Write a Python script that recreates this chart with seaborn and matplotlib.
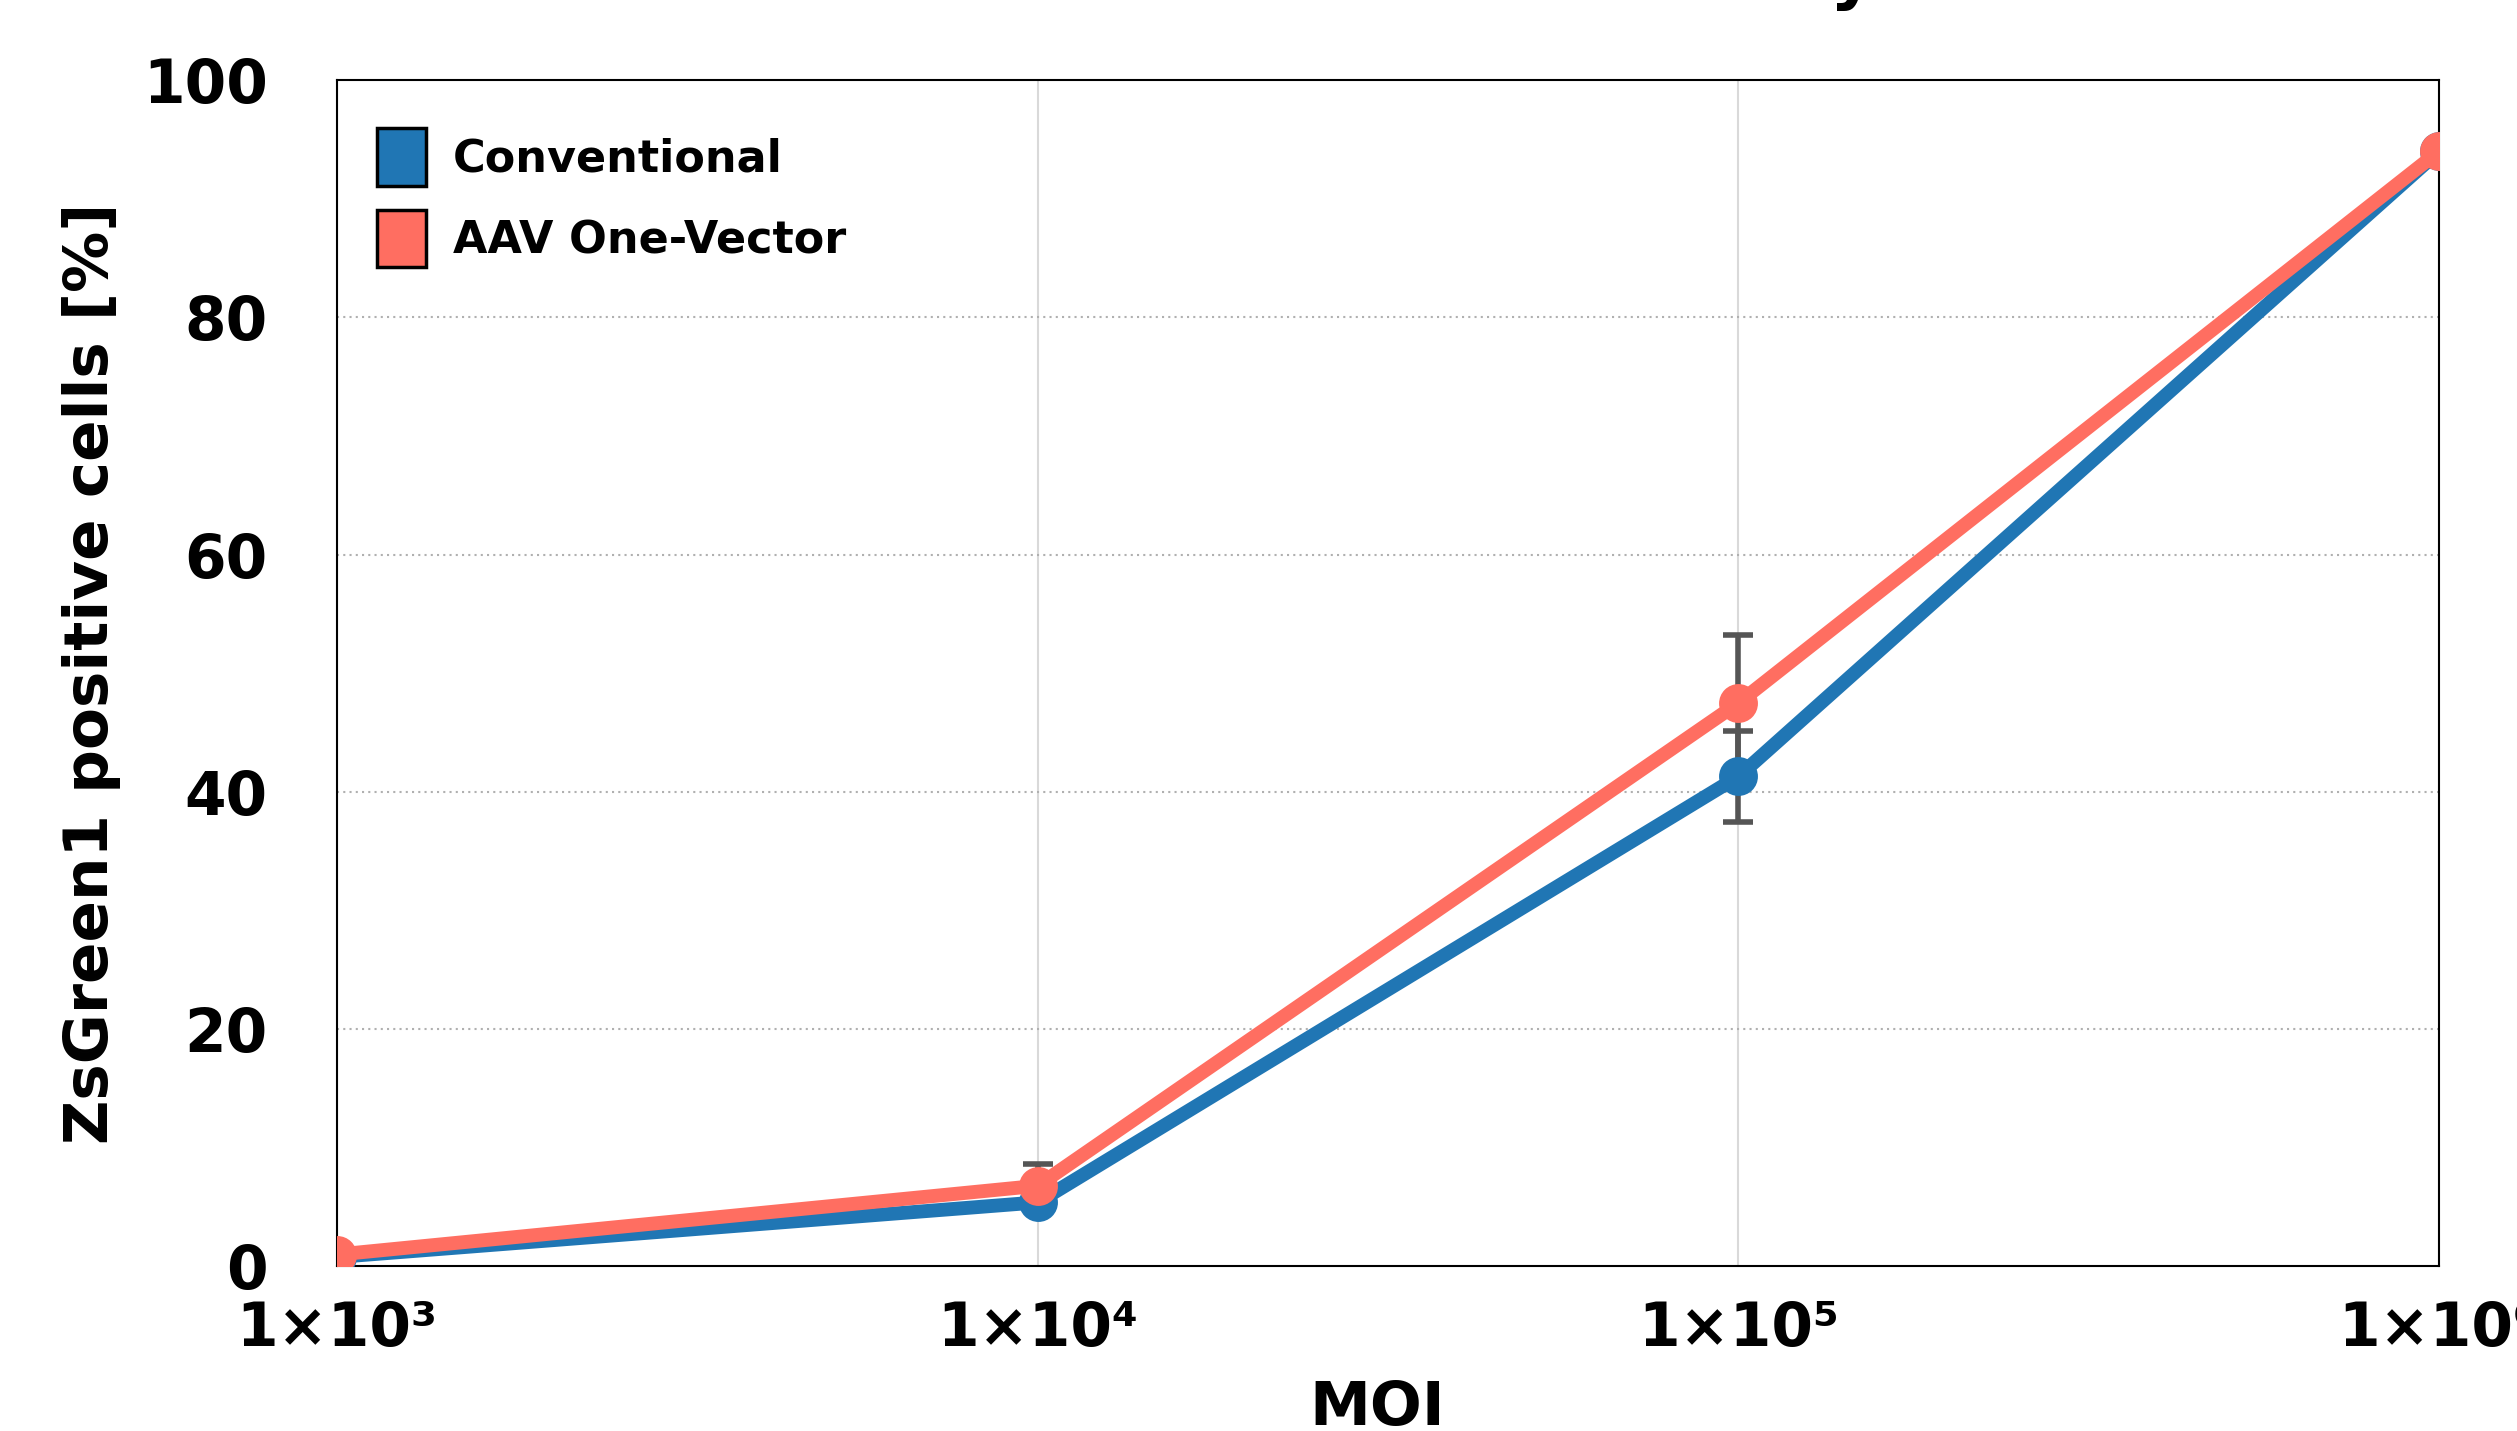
import numpy as np
import pandas as pd
import seaborn as sns
import matplotlib.pyplot as plt
from matplotlib.patches import Patch

# values
moi = [1e3, 1e4, 1e5, 1e6]
conventional = [0.8, 5.4, 41.3, 94.0]
conventional_err = [0.3, 0.6, 3.8, 0.5]
aav_one_vector = [1.0, 6.8, 47.5, 94.0]
aav_one_vector_err = [0.3, 1.8, 5.7, 0.5]
series_names = ["Conventional", "AAV One-Vector"]
tick_labels = ["1×10³", "1×10⁴", "1×10⁵", "1×10⁶"]

colors = {"Conventional": "#2076b4", "AAV One-Vector": "#ff6e61"}


def main():
    sns.set_theme(style="white")
    plt.rcParams['font.family'] = ['DejaVu Sans']
    plt.rcParams['font.weight'] = 'bold'
    for key in ['text.color', 'axes.labelcolor', 'xtick.color', 'ytick.color']:
        plt.rcParams[key] = 'black'

    df = pd.DataFrame({
        "MOI": moi * 2,
        "value": conventional + aav_one_vector,
        "err": conventional_err + aav_one_vector_err,
        "series": [series_names[0]] * 4 + [series_names[1]] * 4,
    })

    fig = plt.figure(figsize=(25.17, 14.31), dpi=100)
    ax = fig.add_axes([0.134, 0.115, 0.835, 0.829])

    # error bars first, lines and markers on top
    for name in series_names:
        sub = df[df["series"] == name]
        ax.errorbar(sub["MOI"], sub["value"], yerr=sub["err"], fmt="none",
                    ecolor="#555555", elinewidth=4, capsize=11, capthick=4, zorder=2)

    sns.lineplot(data=df, x="MOI", y="value", hue="series", palette=colors,
                 marker="o", markersize=28, markeredgewidth=0, linewidth=10,
                 ax=ax, legend=False, zorder=3)

    ax.set_xscale("log")
    ax.set_xlim(1e3, 1e6)
    ax.set_ylim(0, 100)
    ax.set_xticks(moi)
    ax.set_xticklabels(tick_labels)
    ax.minorticks_off()
    ax.set_yticks([0, 20, 40, 60, 80, 100])

    ax.tick_params(axis="both", length=0, labelsize=43)
    ax.tick_params(axis="x", pad=24)
    ax.tick_params(axis="y", pad=50)

    # grid: solid vertical, dotted horizontal
    for x in moi:
        ax.axvline(x, color="#d9d9d9", linewidth=1.5, zorder=0)
    for y in [20, 40, 60, 80]:
        ax.axhline(y, color="#b0b0b0", linewidth=1.5, linestyle=(0, (1, 2)), zorder=0)

    for s in ax.spines.values():
        s.set_color("black")
        s.set_linewidth(1.5)

    ax.set_xlabel("MOI", fontsize=44, fontweight="bold")
    ax.set_ylabel("ZsGreen1 positive cells [%]", fontsize=44, fontweight="bold")
    ax.xaxis.set_label_coords(0.495, -0.095)
    ax.yaxis.set_label_coords(-0.103, 0.5)

    handles = [Patch(facecolor=colors[n], edgecolor="black", linewidth=2.5) for n in series_names]
    ax.legend(handles, series_names, loc="upper left", frameon=False, fontsize=32,
              handlelength=1.1, handleheight=1.6, handletextpad=0.6,
              labelspacing=0.55, borderaxespad=0.5, bbox_to_anchor=(0.0, 0.993))

    # title is cut off at the top of the reference; only its tail shows
    fig.text(0.745, 1.003, "Transduction Efficiency", ha="right", va="baseline",
             fontsize=50, fontweight="bold")

    fig.savefig("out.png", dpi=100)


if __name__ == '__main__':
    main()
